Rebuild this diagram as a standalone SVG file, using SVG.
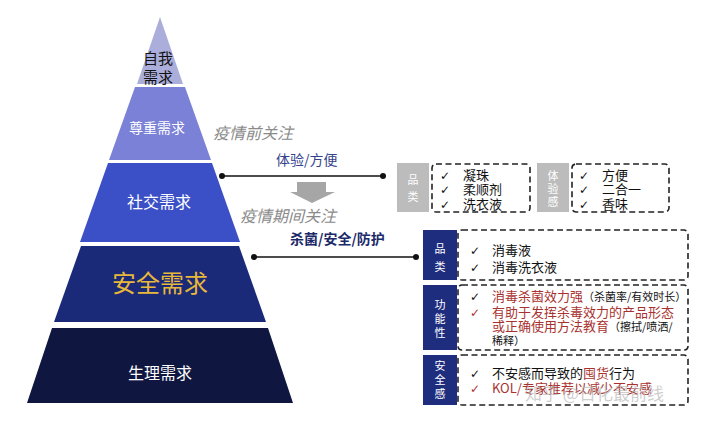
<svg xmlns="http://www.w3.org/2000/svg" width="720" height="423" viewBox="0 0 720 423">
<style>
text{font-family:"Noto Sans CJK SC","Noto Sans",sans-serif}
.w{fill:#ffffff}
.it{font-style:italic;fill:#8a8a8a;font-size:16px}
.ck{font-family:"DejaVu Sans",sans-serif;font-size:12px;fill:#111}
.li{font-size:13px;fill:#111}
.red{fill:#a8322f}
.dash{fill:none;stroke:#222;stroke-width:1.6;stroke-dasharray:6 3.5}
.lab{fill:#1f2d7e}
.glab{fill:#bcbcbc}
.lt{font-size:11px;fill:#fff;text-anchor:middle}
</style>
<defs>
<marker id="dot" viewBox="0 0 6 6" refX="3" refY="3" markerWidth="4" markerHeight="4"><circle cx="3" cy="3" r="3" fill="#111"/></marker>
</defs>
<rect width="720" height="423" fill="#ffffff"/>

<g id="layer1">
<polygon points="160,17 183,84 137,84" fill="#abaedb"/>
<text x="158" y="64" font-size="15" text-anchor="middle" fill="#111">自我</text>
<text x="158" y="83" font-size="15" text-anchor="middle" fill="#111">需求</text>
</g>
<g id="layer2">
<polygon points="135,87 185,87 211,160 109,160" fill="#7b81d6"/>
<text x="157" y="133" font-size="14" text-anchor="middle" class="w">尊重需求</text>
</g>
<g id="layer3">
<polygon points="108,163 212,163 240,242 80,242" fill="#3b50c6"/>
<text x="159" y="208" font-size="16" text-anchor="middle" class="w">社交需求</text>
</g>
<g id="layer4">
<polygon points="81,246 239,246 266,322 54,322" fill="#1b2a78"/>
<text x="160" y="292" font-size="24" text-anchor="middle" fill="#e8b83a">安全需求</text>
</g>
<g id="layer5">
<polygon points="52,328 268,328 293,403 27,403" fill="#0f163f"/>
<text x="160" y="379" font-size="16" text-anchor="middle" class="w">生理需求</text>
</g>

<g id="labels">
<text x="213" y="139" class="it">疫情前关注</text>
<text x="240" y="222" class="it">疫情期间关注</text>
<text x="276" y="165" font-size="14" fill="#33438c">体验/方便</text>
<text x="290" y="244" font-size="14" fill="#1c2a6a" font-weight="bold">杀菌/安全/防护</text>
</g>

<g id="connectors">
<line x1="222" y1="176" x2="383" y2="176" stroke="#111" stroke-width="1.5" marker-start="url(#dot)" marker-end="url(#dot)"/>
<line x1="254" y1="257" x2="416" y2="257" stroke="#111" stroke-width="1.5" marker-start="url(#dot)" marker-end="url(#dot)"/>
<polygon points="297,182 326,182 326,192 335,192 312,203 290,192 297,192" fill="#a6a6a6"/>
</g>

<g id="pre-category">
<rect x="397" y="163" width="32" height="49" class="glab"/>
<text x="413" y="184" class="lt">品</text>
<text x="413" y="201" class="lt">类</text>
<rect x="432" y="164" width="98" height="48" rx="4" class="dash"/>
<text x="440" y="180" class="ck">✓</text><text x="463" y="180" class="li">凝珠</text>
<text x="440" y="194" class="ck">✓</text><text x="463" y="194" class="li">柔顺剂</text>
<text x="440" y="209" class="ck">✓</text><text x="463" y="209" class="li">洗衣液</text>
</g>
<g id="pre-experience">
<rect x="537" y="163" width="32" height="49" class="glab"/>
<text x="553" y="180" class="lt">体</text>
<text x="553" y="193" class="lt">验</text>
<text x="553" y="206" class="lt">感</text>
<rect x="572" y="164" width="97" height="48" rx="4" class="dash"/>
<text x="579" y="180" class="ck">✓</text><text x="602" y="180" class="li">方便</text>
<text x="579" y="194" class="ck">✓</text><text x="602" y="194" class="li">二合一</text>
<text x="579" y="209" class="ck">✓</text><text x="602" y="209" class="li">香味</text>
</g>

<g id="during-category">
<rect x="423" y="230" width="34" height="50" class="lab"/>
<text x="440" y="253" class="lt">品</text>
<text x="440" y="271" class="lt">类</text>
<rect x="458" y="230" width="230" height="50" rx="4" class="dash"/>
<text x="470" y="255" class="ck">✓</text><text x="492" y="255" class="li">消毒液</text>
<text x="470" y="272" class="ck">✓</text><text x="492" y="272" class="li">消毒洗衣液</text>
</g>
<g id="during-function">
<rect x="423" y="285" width="34" height="65" class="lab"/>
<text x="440" y="309" class="lt">功</text>
<text x="440" y="323" class="lt">能</text>
<text x="440" y="337" class="lt">性</text>
<rect x="458" y="285" width="230" height="65" rx="4" class="dash"/>
<text x="470" y="301" class="ck">✓</text><text x="492" y="301" class="li"><tspan class="red">消毒杀菌效力强</tspan><tspan font-size="11">（杀菌率/有效时长）</tspan></text>
<text x="470" y="317" class="ck red">✓</text><text x="492" y="317" class="li red">有助于发挥杀毒效力的产品形态</text>
<text x="492" y="331" class="li"><tspan class="red">或正确使用方法教育</tspan><tspan font-size="11">（擦拭/喷洒/</tspan></text>
<text x="492" y="345" font-size="11" fill="#111">稀释）</text>
</g>
<g id="during-safety">
<rect x="423" y="355" width="34" height="50" class="lab"/>
<text x="440" y="370" class="lt">安</text>
<text x="440" y="384" class="lt">全</text>
<text x="440" y="398" class="lt">感</text>
<rect x="458" y="355" width="230" height="50" rx="4" class="dash"/>
<text x="470" y="378" class="ck">✓</text><text x="492" y="378" class="li">不安感而导致的<tspan class="red">囤货</tspan>行为</text>
<text x="470" y="393" class="ck red">✓</text><text x="492" y="393" class="li red">KOL/专家推荐以减少不安感</text>
</g>

<text x="525" y="400" font-size="17" fill="#b8b8b8" fill-opacity="0.7">知乎 @日化最前线</text>
</svg>
